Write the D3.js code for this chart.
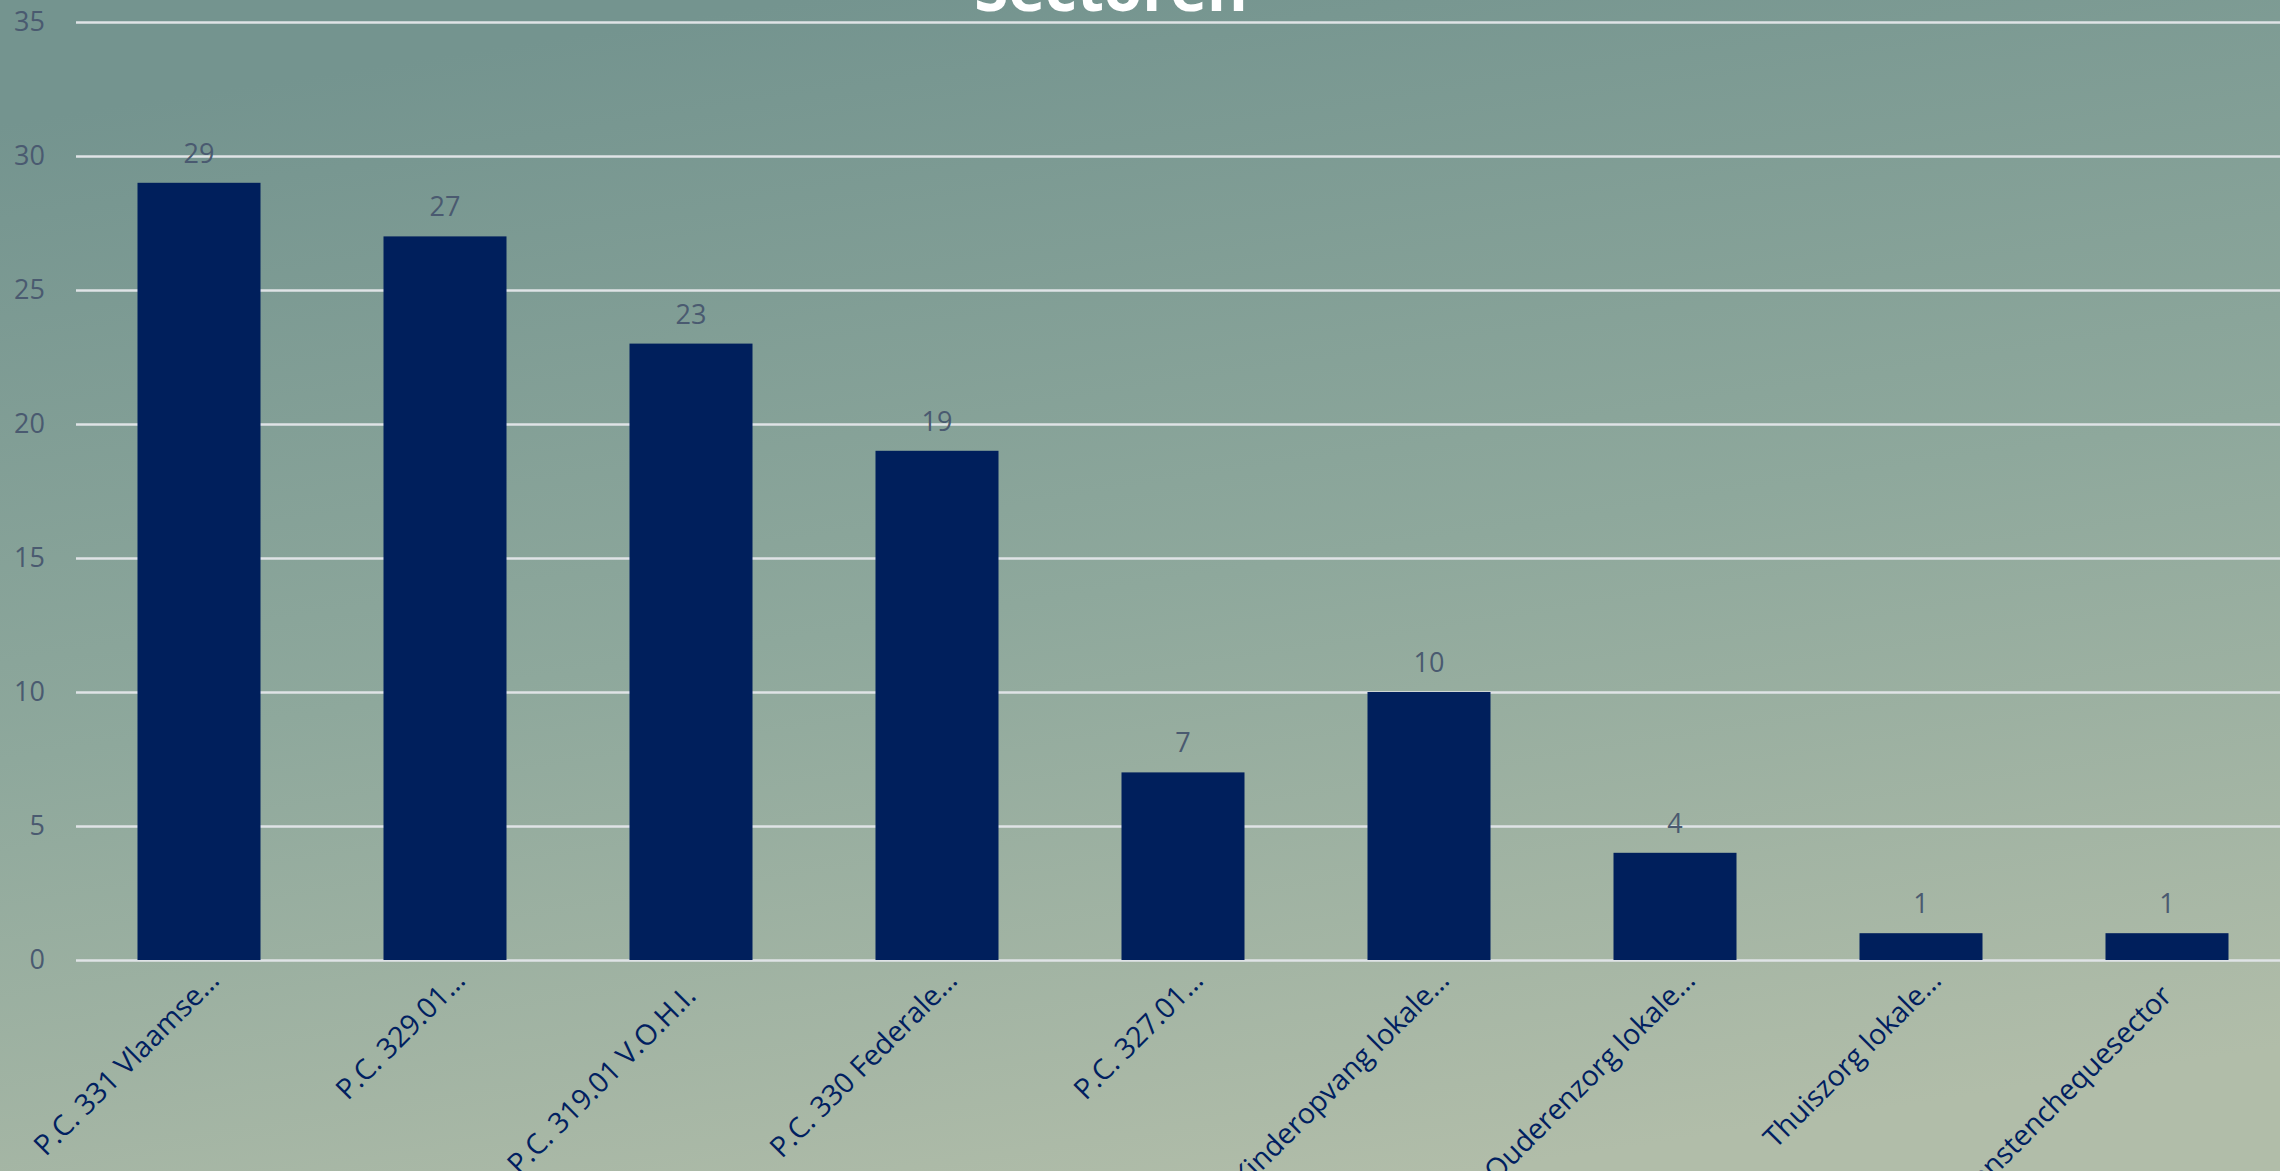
<!DOCTYPE html>
<html>
<head>
<meta charset="utf-8">
<script src="https://cdn.jsdelivr.net/npm/d3@7"></script>
<style>
  body { margin: 0; overflow: hidden; }
  svg { display: block; }
</style>
</head>
<body>
<svg id="mainsvg" width="2280" height="1171"></svg>
<script>
// data
const categories = [
    'P.C. 331 Vlaamse…',
    'P.C. 329.01…',
    'P.C. 319.01 V.O.H.I.',
    'P.C. 330 Federale…',
    'P.C. 327.01…',
    'Kinderopvang lokale…',
    'Ouderenzorg lokale…',
    'Thuiszorg lokale…',
    'Dienstenchequesector'
];
const values = [29, 27, 23, 19, 7, 10, 4, 1, 1];
const yTicks = [0, 5, 10, 15, 20, 25, 30, 35];
const title = 'Sectoren';

const svg = d3.select('#mainsvg');
const width = +svg.attr('width');
const height = +svg.attr('height');
const margin = { top: 22, left: 76, right: -10, bottom: 211 };

// background
const defs = svg.append('defs');
const grad = defs.append('linearGradient').attr('id', 'bg')
    .attr('x1', '0.35').attr('y1', '0').attr('x2', '0.65').attr('y2', '1');
grad.append('stop').attr('offset', '0').attr('stop-color', '#74948f');
grad.append('stop').attr('offset', '0.5').attr('stop-color', '#8ea89c');
grad.append('stop').attr('offset', '1').attr('stop-color', '#b1bda9');
svg.append('rect').attr('width', width).attr('height', height).attr('fill', 'url(#bg)');

const x = d3.scaleBand()
    .domain(categories)
    .range([margin.left, width - margin.right])
    .paddingInner(0.5)
    .paddingOuter(0.25);

const y = d3.scaleLinear()
    .domain([0, 35])
    .range([height - margin.bottom, margin.top]);

// gridlines + y tick labels
const yAxis = svg.append('g')
    .attr('transform', `translate(${margin.left},0)`)
    .call(d3.axisLeft(y).tickValues(yTicks)
        .tickSize(-(width - margin.right - margin.left))
        .tickPadding(31));
yAxis.select('.domain').remove();
yAxis.selectAll('line').attr('stroke', '#dfe3e6').attr('stroke-width', 2.5);
yAxis.selectAll('text')
    .attr('fill', '#4a5a70')
    .attr('font-family', 'Open Sans, sans-serif')
    .attr('font-size', 27);

// bars
svg.selectAll('rect.bar').data(values).enter()
    .append('rect')
    .attr('class', 'bar')
    .attr('x', (d, i) => x(categories[i]))
    .attr('y', d => y(d))
    .attr('width', x.bandwidth())
    .attr('height', d => y(0) - y(d))
    .attr('fill', '#001f5c');

// data labels
svg.selectAll('text.val').data(values).enter()
    .append('text')
    .attr('class', 'val')
    .attr('x', (d, i) => x(categories[i]) + x.bandwidth() / 2)
    .attr('y', d => y(d) - 20)
    .attr('text-anchor', 'middle')
    .attr('fill', '#4a5a70')
    .attr('font-family', 'Open Sans, sans-serif')
    .attr('font-size', 27)
    .text(d => d);

// category labels (untruncated ones sit a bit further back)
svg.selectAll('text.cat').data(categories).enter()
    .append('text')
    .attr('class', 'cat')
    .attr('transform', d => `translate(${x(d) + x.bandwidth() / 2 + 22},${y(0) + 22}) rotate(-45)`)
    .attr('dx', d => d.endsWith('…') ? 0 : -22)
    .attr('text-anchor', 'end')
    .attr('fill', '#002060')
    .attr('font-family', 'Open Sans, sans-serif')
    .attr('font-size', 28.5)
    .text(d => d);

// title (cut off at top)
svg.append('text')
    .attr('x', 1111)
    .attr('y', 11)
    .attr('text-anchor', 'middle')
    .attr('fill', '#ffffff')
    .attr('font-family', 'Open Sans, sans-serif')
    .attr('font-weight', 'bold')
    .attr('font-size', 62)
    .text(title);
</script>
</body>
</html>
